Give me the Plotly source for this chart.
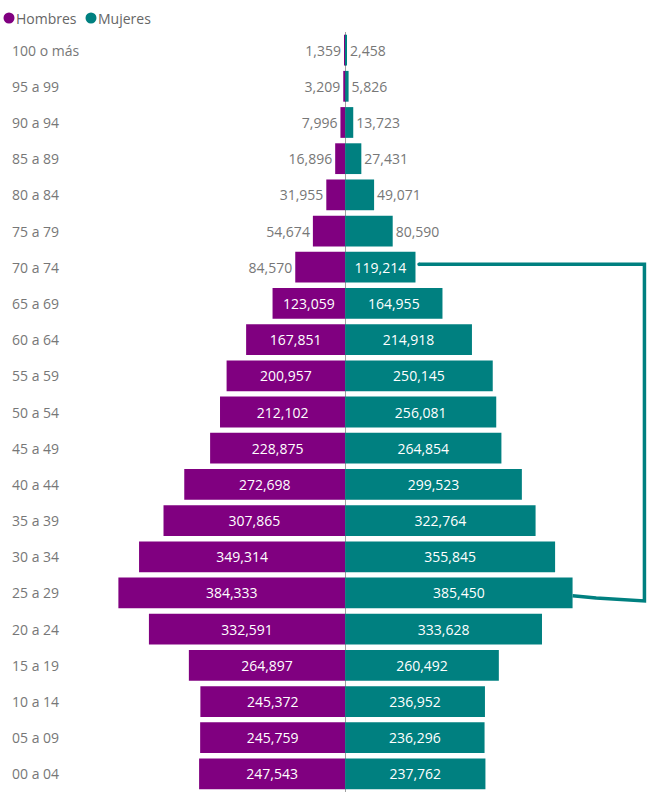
import plotly.graph_objects as go

ages = ["100 o más", "95 a 99", "90 a 94", "85 a 89", "80 a 84", "75 a 79", "70 a 74",
        "65 a 69", "60 a 64", "55 a 59", "50 a 54", "45 a 49", "40 a 44", "35 a 39",
        "30 a 34", "25 a 29", "20 a 24", "15 a 19", "10 a 14", "05 a 09", "00 a 04"]
hombres = [1359, 3209, 7996, 16896, 31955, 54674, 84570, 123059, 167851, 200957, 212102,
           228875, 272698, 307865, 349314, 384333, 332591, 264897, 245372, 245759, 247543]
mujeres = [2458, 5826, 13723, 27431, 49071, 80590, 119214, 164955, 214918, 250145, 256081,
           264854, 299523, 322764, 355845, 385450, 333628, 260492, 236952, 236296, 237762]
series_names = ["Hombres", "Mujeres"]

PURPLE = "#800080"
TEAL = "#008080"
GRAY = "#777777"
FONT = "Open Sans"
W, H, TOP = 649, 792, 32
X_MIN, X_MAX = -585000, 515000
INSIDE_MIN = 100000

def fmt(v):
    return f"{v:,}"

def positions(vals):
    return ["inside" if v >= INSIDE_MIN else "outside" for v in vals]

fig = go.Figure()
fig.add_trace(go.Bar(
    y=ages, x=[-v for v in hombres], orientation="h", name=series_names[0],
    marker=dict(color=PURPLE, line=dict(width=0)),
    text=[fmt(v) for v in hombres], textposition=positions(hombres),
    insidetextanchor="middle",
    insidetextfont=dict(color="white", size=14, family=FONT),
    outsidetextfont=dict(color=GRAY, size=14, family=FONT),
    cliponaxis=False, showlegend=False, hoverinfo="skip"))
fig.add_trace(go.Bar(
    y=ages, x=mujeres, orientation="h", name=series_names[1],
    marker=dict(color=TEAL, line=dict(width=0)),
    text=[fmt(v) for v in mujeres], textposition=positions(mujeres),
    insidetextanchor="middle",
    insidetextfont=dict(color="white", size=14, family=FONT),
    outsidetextfont=dict(color=GRAY, size=14, family=FONT),
    cliponaxis=False, showlegend=False, hoverinfo="skip"))

# category labels, left aligned
for a in ages:
    fig.add_annotation(x=0, xref="paper", y=a, yref="y", text=a, showarrow=False,
                       xanchor="left", xshift=10, font=dict(color=GRAY, size=14, family=FONT))

# manual legend with round markers
plot_h = H - TOP
leg_y = 1 + (TOP - 18) / plot_h
for (name, col, px) in [(series_names[0], PURPLE, 9), (series_names[1], TEAL, 91)]:
    fig.add_shape(type="circle", xref="paper", yref="paper",
                  xsizemode="pixel", ysizemode="pixel",
                  xanchor=0, yanchor=leg_y, x0=px - 5.5, x1=px + 5.5, y0=-5.5, y1=5.5,
                  fillcolor=col, line=dict(width=0))
    fig.add_annotation(x=0, xref="paper", y=leg_y, yref="paper", text=name,
                       showarrow=False, xanchor="left", yanchor="middle", xshift=px + 5,
                       font=dict(color="#666666", size=14, family=FONT))

# bracket annotation connecting 70-74 and 25-29 women bars
i_top = ages.index("70 a 74")
i_bot = ages.index("25 a 29")
x_start = mujeres[i_top] + 6000
x_right = X_MAX * 0.985
x_end = mujeres[i_bot]
path = (f"M {x_start},{i_top - 0.08} L {x_right},{i_top - 0.08} "
        f"L {x_right},{i_bot + 0.22} L {x_end + 40000},{i_bot + 0.14} L {x_end},{i_bot + 0.08}")
fig.add_shape(type="path", path=path, xref="x", yref="y",
              line=dict(color=TEAL, width=3.5))
fig.add_shape(type="circle", xref="x", yref="y",
              x0=x_start - 3000, x1=x_start + 3000, y0=i_top - 0.13, y1=i_top - 0.03,
              fillcolor=TEAL, line=dict(width=0))

fig.update_layout(
    width=W, height=H,
    margin=dict(l=0, r=0, t=TOP, b=0),
    paper_bgcolor="white", plot_bgcolor="white",
    barmode="relative", bargap=0.15,
    font=dict(family=FONT, color=GRAY, size=14),
    xaxis=dict(range=[X_MIN, X_MAX], showgrid=False, showticklabels=False,
               zeroline=True, zerolinecolor="#a0a0a0", zerolinewidth=1, fixedrange=True),
    yaxis=dict(range=[20.5, -0.5], showticklabels=False, showgrid=False, fixedrange=True),
    showlegend=False,
)

fig.write_html("out.html")
